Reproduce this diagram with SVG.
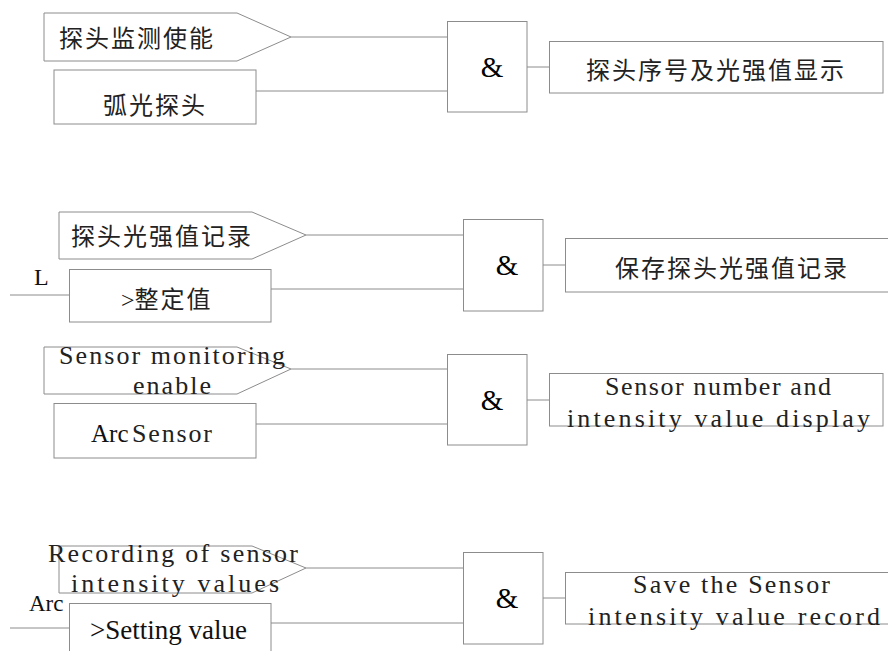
<svg xmlns="http://www.w3.org/2000/svg" width="888" height="651" viewBox="0 0 888 651">
<style>
.s{fill:#fff;stroke:#8c8c8c;stroke-width:1}
.c{fill:none;stroke:#8c8c8c;stroke-width:1}
.cn{font-family:"Noto Sans CJK SC","Noto Sans",sans-serif;font-size:24px;letter-spacing:2px;fill:#222}
.mo{font-family:"Liberation Serif","Times New Roman",serif;font-size:26px;fill:#222}
.tm{font-family:"Liberation Serif","Times New Roman",serif;fill:#111}
.amp{font-family:"Liberation Serif","Times New Roman",serif;font-size:29px;fill:#000}
</style>
<rect width="888" height="651" fill="#fff"/>
<g id="connectors">
<path class="c" d="M291 37H448M256 91H448M527 67H549"/>
<path class="c" d="M306 235H463M10 295H69M271 289H463M543 265H565"/>
<path class="c" d="M291 369H448M256 424H448M527 400H549"/>
<path class="c" d="M306 568H463M10 628H69M271 623H463M543 598H565"/>
</g>
<g id="n1a"><polygon class="s" points="44,13 237,13 291,37 237,61 44,61"/><text class="cn" x="59" y="47">探头监测使能</text></g>
<g id="n1b"><rect class="s" x="54" y="70" width="202" height="54"/><text class="cn" x="103" y="114">弧光探头</text></g>
<g id="n1and"><rect class="s" x="447.5" y="21.5" width="79.5" height="90.5"/><text class="amp" x="492" y="77" text-anchor="middle">&amp;</text></g>
<g id="n1out"><rect class="s" x="549.5" y="41.5" width="333.5" height="51.5"/><text class="cn" x="586" y="79">探头序号及光强值显示</text></g>

<g id="n2a"><polygon class="s" points="59,212 252,212 306,235 252,259 59,259"/><text class="cn" x="71" y="245">探头光强值记录</text></g>
<text id="lblL" class="tm" font-size="24" x="34" y="285">L</text>
<g id="n2b"><rect class="s" x="69.5" y="269.5" width="201.5" height="52.5"/><text class="cn" x="121" y="308"><tspan class="tm" font-size="24" letter-spacing="0">&gt;</tspan>整定值</text></g>
<g id="n2and"><rect class="s" x="463.5" y="219.5" width="79.5" height="91.5"/><text class="amp" x="507" y="275" text-anchor="middle">&amp;</text></g>
<g id="n2out"><rect class="s" x="565.5" y="238.5" width="330" height="53.5"/><text class="cn" x="615" y="277">保存探头光强值记录</text></g>

<g id="n3a"><polygon class="s" points="44,347 237,347 291,369 237,394 44,394"/><text class="mo" x="59" y="364" textLength="226" lengthAdjust="spacing">Sensor monitoring</text><text class="mo" x="133" y="394" textLength="78" lengthAdjust="spacing">enable</text></g>
<g id="n3b"><rect class="s" x="54" y="403.5" width="202" height="54.5"/><text x="91" y="442"><tspan class="tm" font-size="25">Arc</tspan><tspan class="mo" x="132" textLength="80" lengthAdjust="spacing">Sensor</tspan></text></g>
<g id="n3and"><rect class="s" x="447.5" y="354.5" width="79.5" height="90.5"/><text class="amp" x="492" y="410" text-anchor="middle">&amp;</text></g>
<g id="n3out"><rect class="s" x="549.5" y="373.5" width="333.5" height="52.5"/><text class="mo" x="605" y="395" textLength="226" lengthAdjust="spacing">Sensor number and</text><text class="mo" x="567" y="427" textLength="303" lengthAdjust="spacing">intensity value display</text></g>

<g id="n4a"><polygon class="s" points="59,546 252,546 306,568 252,593 59,593"/><text class="mo" x="48" y="562" textLength="250" lengthAdjust="spacing">Recording of sensor</text><text class="mo" x="71" y="592" textLength="208" lengthAdjust="spacing">intensity values</text></g>
<text id="lblArc" class="tm" font-size="23" x="29" y="611">Arc</text>
<g id="n4b"><rect class="s" x="69.5" y="603.5" width="201.5" height="60"/><text class="tm" font-size="27" x="90" y="639">&gt;Setting value</text></g>
<g id="n4and"><rect class="s" x="463.5" y="552.5" width="79.5" height="91.5"/><text class="amp" x="507" y="608" text-anchor="middle">&amp;</text></g>
<g id="n4out"><rect class="s" x="565.5" y="572.5" width="330" height="51.5"/><text class="mo" x="633" y="593" textLength="197" lengthAdjust="spacing">Save the Sensor</text><text class="mo" x="588" y="625" textLength="292" lengthAdjust="spacing">intensity value record</text></g>
</svg>
